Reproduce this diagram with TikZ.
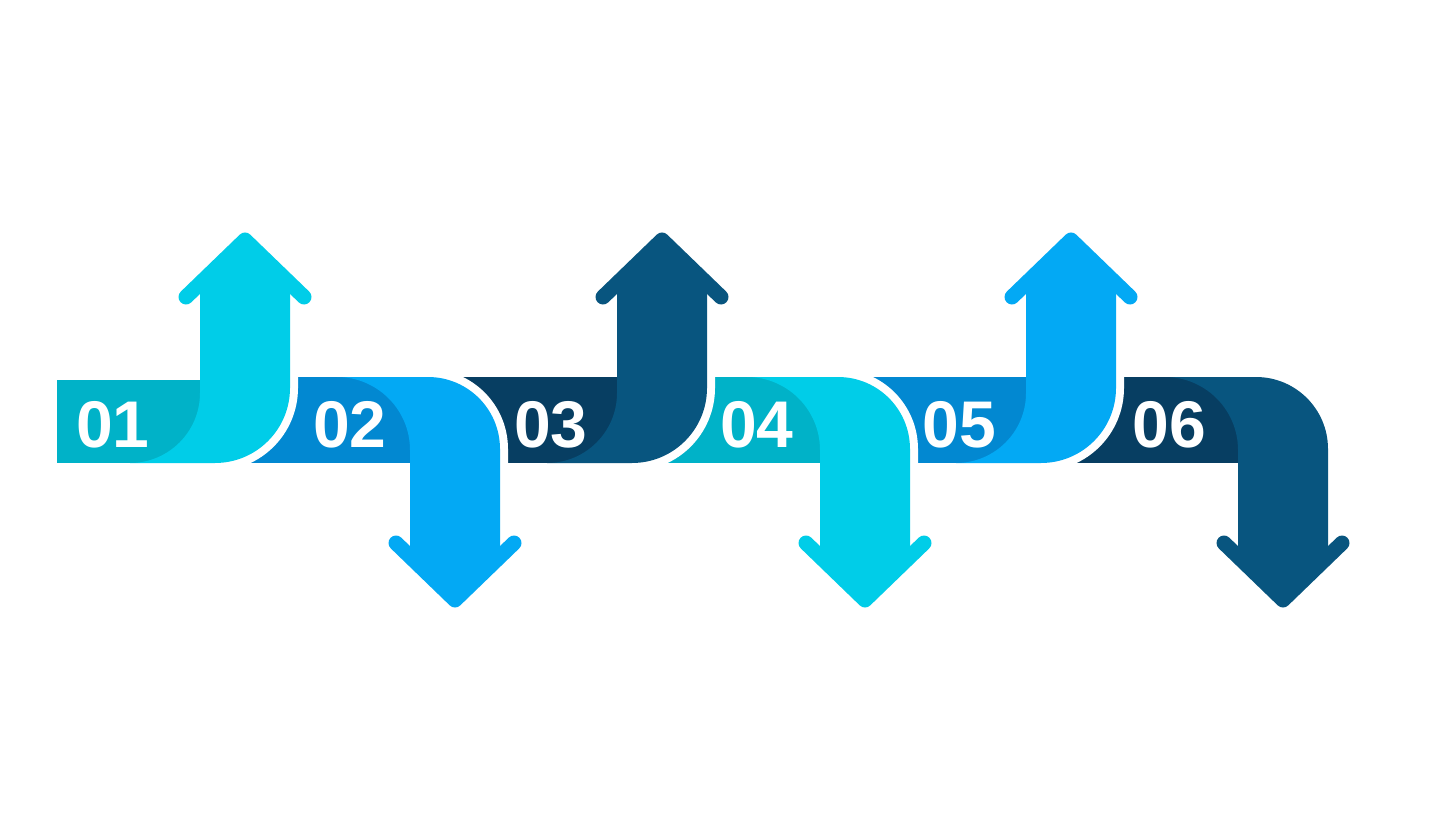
\documentclass[tikz,border=0pt]{standalone}
\usepackage{fontspec}
\newfontfamily\numfont{Liberation Sans}[BoldFont={Liberation Sans Bold}]
\definecolor{cyanL}{HTML}{00CDE8}
\definecolor{tealD}{HTML}{00B2C8}
\definecolor{blueL}{HTML}{03A9F4}
\definecolor{blueD}{HTML}{0288D1}
\definecolor{navyL}{HTML}{08557F}
\definecolor{navyD}{HTML}{073E62}
\tikzset{
  numlabel/.style={text=white, font=\numfont\bfseries\fontsize{33}{33}\selectfont, anchor=base, inner sep=0pt},
  headstroke/.style={line width=7.5pt, line cap=round, line join=round},
  gapline/.style={draw=white, line width=8pt}
}
\begin{document}
\begin{tikzpicture}[x=0.5pt,y=-0.5pt]
\useasboundingbox (0,0) rectangle (1440,840);
\fill[white] (0,0) rectangle (1440,840);
% bands
\fill[tealD] (57,380) rectangle (200,463);
\fill[blueD] (245,377) rectangle (410,463);
\fill[navyD] (455,377) rectangle (617,463);
\fill[tealD] (662,377) rectangle (820,463);
\fill[blueD] (865,377) rectangle (1026,463);
\fill[navyD] (1071,377) rectangle (1238,463);
% up arrows
\foreach \c/\col in {245/cyanL, 662/navyL, 1071/blueL}{
  \draw[gapline] ({\c+45},360) -- ({\c+45},388) .. controls ({\c+45},429.4) and ({\c+11.4},463) .. ({\c-30},463);
  \fill[\col] ({\c-115},463) -- ({\c-30},463) .. controls ({\c+11.4},463) and ({\c+45},429.4) .. ({\c+45},388)
     -- ({\c+45},284) -- (\c,240) -- ({\c-45},284) -- ({\c-45},393)
     .. controls ({\c-45},431.7) and ({\c-76.3},463) .. ({\c-115},463) -- cycle;
  \draw[\col, headstroke] ({\c-59},297) -- (\c,240) -- ({\c+59},297);
}
% down arrows
\foreach \c/\col in {455/blueL, 865/cyanL, 1283/navyL}{
  \draw[gapline] ({\c-27},377) .. controls ({\c+12.8},377) and ({\c+45},409.2) .. ({\c+45},449) -- ({\c+45},490);
  \fill[\col] ({\c-118},377) -- ({\c-27},377) .. controls ({\c+12.8},377) and ({\c+45},409.2) .. ({\c+45},449)
     -- ({\c+45},556) -- (\c,600) -- ({\c-45},556) -- ({\c-45},450)
     .. controls ({\c-45},409.7) and ({\c-77.7},377) .. ({\c-118},377) -- cycle;
  \draw[\col, headstroke] ({\c-59},543) -- (\c,600) -- ({\c+59},543);
}
% labels
\node[numlabel] (n1) at (113,447) {01};
\node[numlabel] (n2) at (350,447) {02};
\node[numlabel] (n3) at (551,447) {03};
\node[numlabel] (n4) at (757,447) {04};
\node[numlabel] (n5) at (959,447) {05};
\node[numlabel] (n6) at (1169,447) {06};
\end{tikzpicture}
\end{document}
